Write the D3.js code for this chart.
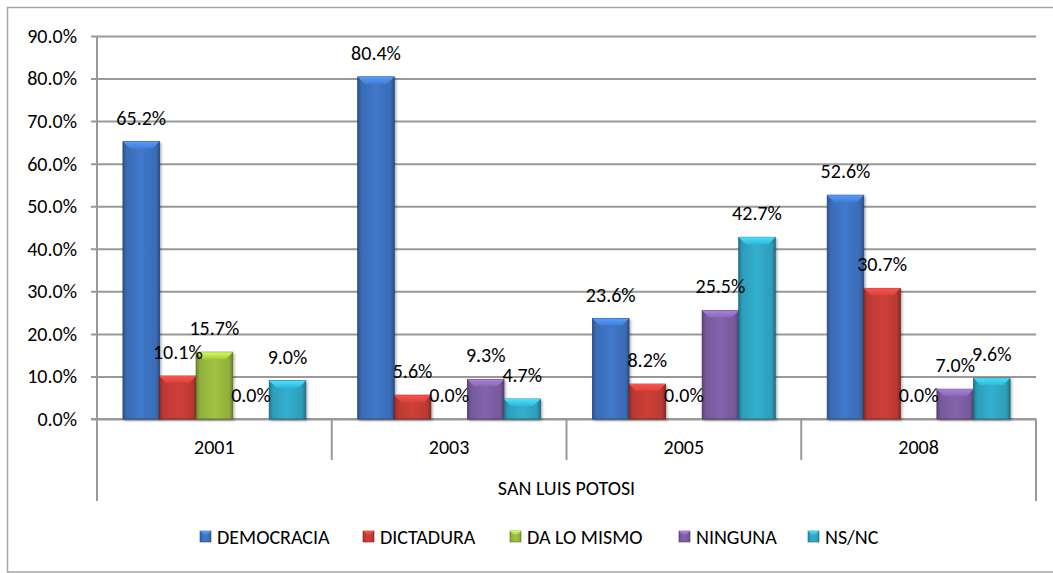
<!DOCTYPE html>
<html>
<head>
<meta charset="utf-8">
<script src="https://cdn.jsdelivr.net/npm/d3@7"></script>
<style>
  html, body { margin: 0; padding: 0; background: #fff; }
  svg { display: block; }
  text { font-family: Carlito, Lato, sans-serif; fill: #000; }
</style>
</head>
<body>
<div id="chart"></div>
<script>
// Preferencia por tipo de régimen, San Luis Potosí
const years = ["2001", "2003", "2005", "2008"];
const groupLabel = "SAN LUIS POTOSI";
const seriesNames = ["DEMOCRACIA", "DICTADURA", "DA LO MISMO", "NINGUNA", "NS/NC"];
const democracia = [65.2, 80.4, 23.6, 52.6];
const dictadura  = [10.1, 5.6, 8.2, 30.7];
const daLoMismo  = [15.7, 0.0, 0.0, 0.0];
const ninguna    = [0.0, 9.3, 25.5, 7.0];
const nsnc       = [9.0, 4.7, 42.7, 9.6];
const yTicks = [0, 10, 20, 30, 40, 50, 60, 70, 80, 90];

const seriesValues = [democracia, dictadura, daLoMismo, ninguna, nsnc];
const colors = ["#3d72c0", "#c43c36", "#98b93e", "#7d5ea3", "#2fa6c4"];

const W = 1053, H = 573;
const margin = { left: 97, right: 17, top: 36, bottom: 154 };
const plotW = W - margin.left - margin.right;   // 939
const plotH = H - margin.top - margin.bottom;   // 383
const fontSize = 20;

const svg = d3.select("#chart").append("svg")
  .attr("width", W).attr("height", H);

const defs = svg.append("defs");
colors.forEach((c, i) => {
  const base = d3.color(c);
  const g = defs.append("linearGradient").attr("id", "body" + i)
    .attr("x1", 0).attr("x2", 1).attr("y1", 0).attr("y2", 0);
  g.append("stop").attr("offset", "0%").attr("stop-color", base.darker(0.9));
  g.append("stop").attr("offset", "10%").attr("stop-color", base.darker(0.15));
  g.append("stop").attr("offset", "50%").attr("stop-color", base.brighter(0.15));
  g.append("stop").attr("offset", "90%").attr("stop-color", base.darker(0.15));
  g.append("stop").attr("offset", "100%").attr("stop-color", base.darker(1.0));
  const t = defs.append("linearGradient").attr("id", "top" + i)
    .attr("x1", 0).attr("x2", 0).attr("y1", 0).attr("y2", 1);
  t.append("stop").attr("offset", "0%").attr("stop-color", base.brighter(0.9));
  t.append("stop").attr("offset", "100%").attr("stop-color", base.brighter(0.25));
});
const shadow = defs.append("filter").attr("id", "shadow")
  .attr("x", "-20%").attr("y", "-20%").attr("width", "150%").attr("height", "150%");
shadow.append("feDropShadow").attr("dx", 1.5).attr("dy", 1.5)
  .attr("stdDeviation", 1.2).attr("flood-color", "#000").attr("flood-opacity", 0.3);

// Outer chart border
svg.append("rect")
  .attr("x", 7.5).attr("y", 7.5).attr("width", W + 10).attr("height", 564.5)
  .attr("fill", "none").attr("stroke", "#a6a6a6").attr("stroke-width", 1.5);

const g = svg.append("g").attr("transform", `translate(${margin.left},${margin.top})`);

const y = d3.scaleLinear().domain([0, 90]).range([plotH, 0]);
const x0 = d3.scaleBand().domain(years).range([0, plotW]).paddingInner(0).paddingOuter(0);
const x1 = d3.scaleBand().domain(d3.range(seriesNames.length))
  .range([0, x0.bandwidth()]).paddingOuter(0.71).paddingInner(0);

// Gridlines and y axis
const yAxis = d3.axisLeft(y).tickValues(yTicks)
  .tickFormat(d => d.toFixed(1) + "%")
  .tickSize(-plotW).tickPadding(20);
const ya = g.append("g").call(yAxis);
ya.select(".domain").remove();
ya.selectAll(".tick line").attr("stroke", "#999").attr("stroke-width", 2).attr("x1", -6);
ya.selectAll(".tick text").attr("font-size", fontSize)
  .style("font-family", "Carlito, Lato, sans-serif").attr("fill", "#000");

// Category axis (two levels)
const axisColor = "#999";
g.append("line").attr("x1", 0).attr("x2", 0).attr("y1", 0).attr("y2", plotH + 82)
  .attr("stroke", axisColor).attr("stroke-width", 2);
g.append("line").attr("x1", -6).attr("x2", plotW).attr("y1", plotH).attr("y2", plotH)
  .attr("stroke", axisColor).attr("stroke-width", 2);
years.slice(1).forEach(yr => {
  g.append("line").attr("x1", x0(yr)).attr("x2", x0(yr))
    .attr("y1", plotH).attr("y2", plotH + 41)
    .attr("stroke", axisColor).attr("stroke-width", 2);
});
g.append("line").attr("x1", plotW).attr("x2", plotW).attr("y1", plotH).attr("y2", plotH + 82)
  .attr("stroke", axisColor).attr("stroke-width", 2);
g.selectAll(".year").data(years).join("text")
  .attr("class", "year")
  .attr("x", d => x0(d) + x0.bandwidth() / 2)
  .attr("y", plotH + 28)
  .attr("dy", "0.35em")
  .attr("text-anchor", "middle").attr("font-size", fontSize)
  .text(d => d);
g.append("text")
  .attr("x", plotW / 2).attr("y", plotH + 69)
  .attr("dy", "0.35em")
  .attr("text-anchor", "middle").attr("font-size", fontSize)
  .text(groupLabel);

// Bars
const bevel = 7;
const barData = [];
years.forEach((yr, gi) => {
  seriesValues.forEach((vals, si) => {
    barData.push({ year: yr, s: si, v: vals[gi] });
  });
});

const bars = g.append("g").selectAll("g.bar").data(barData.filter(d => d.v > 0)).join("g")
  .attr("class", "bar")
  .attr("filter", "url(#shadow)");

bars.append("rect")
  .attr("x", d => x0(d.year) + x1(d.s))
  .attr("y", d => y(d.v))
  .attr("width", x1.bandwidth())
  .attr("height", d => plotH - y(d.v))
  .attr("fill", d => `url(#body${d.s})`)
  .attr("stroke", d => d3.color(colors[d.s]).darker(1.4))
  .attr("stroke-width", 0.8);

bars.append("path")
  .attr("d", d => {
    const bx = x0(d.year) + x1(d.s), by = y(d.v), bw = x1.bandwidth();
    const b = Math.min(bevel, (plotH - by) / 2);
    return `M${bx},${by}L${bx + bw},${by}L${bx + bw - b},${by + b}L${bx + b},${by + b}Z`;
  })
  .attr("fill", d => `url(#top${d.s})`);

// Value labels
g.append("g").selectAll("text.val").data(barData).join("text")
  .attr("class", "val")
  .attr("x", d => x0(d.year) + x1(d.s) + x1.bandwidth() / 2)
  .attr("y", d => y(d.v) - 24)
  .attr("dy", "0.35em")
  .attr("text-anchor", "middle").attr("font-size", fontSize)
  .text(d => d.v.toFixed(1) + "%");

// Legend
const legendX = [200, 363, 510, 679, 808];
const leg = svg.append("g").selectAll("g").data(seriesNames).join("g")
  .attr("transform", (d, i) => `translate(${legendX[i]},531)`);
leg.append("rect").attr("width", 11).attr("height", 11)
  .attr("fill", (d, i) => `url(#body${i})`)
  .attr("stroke", (d, i) => d3.color(colors[i]).darker(1.2)).attr("stroke-width", 0.6);
leg.append("path").attr("d", "M0,0L11,0L7,4L4,4Z")
  .attr("fill", (d, i) => `url(#top${i})`);
leg.append("text").attr("x", 17).attr("y", 6).attr("dy", "0.35em")
  .attr("font-size", fontSize).text(d => d);
</script>
</body>
</html>
